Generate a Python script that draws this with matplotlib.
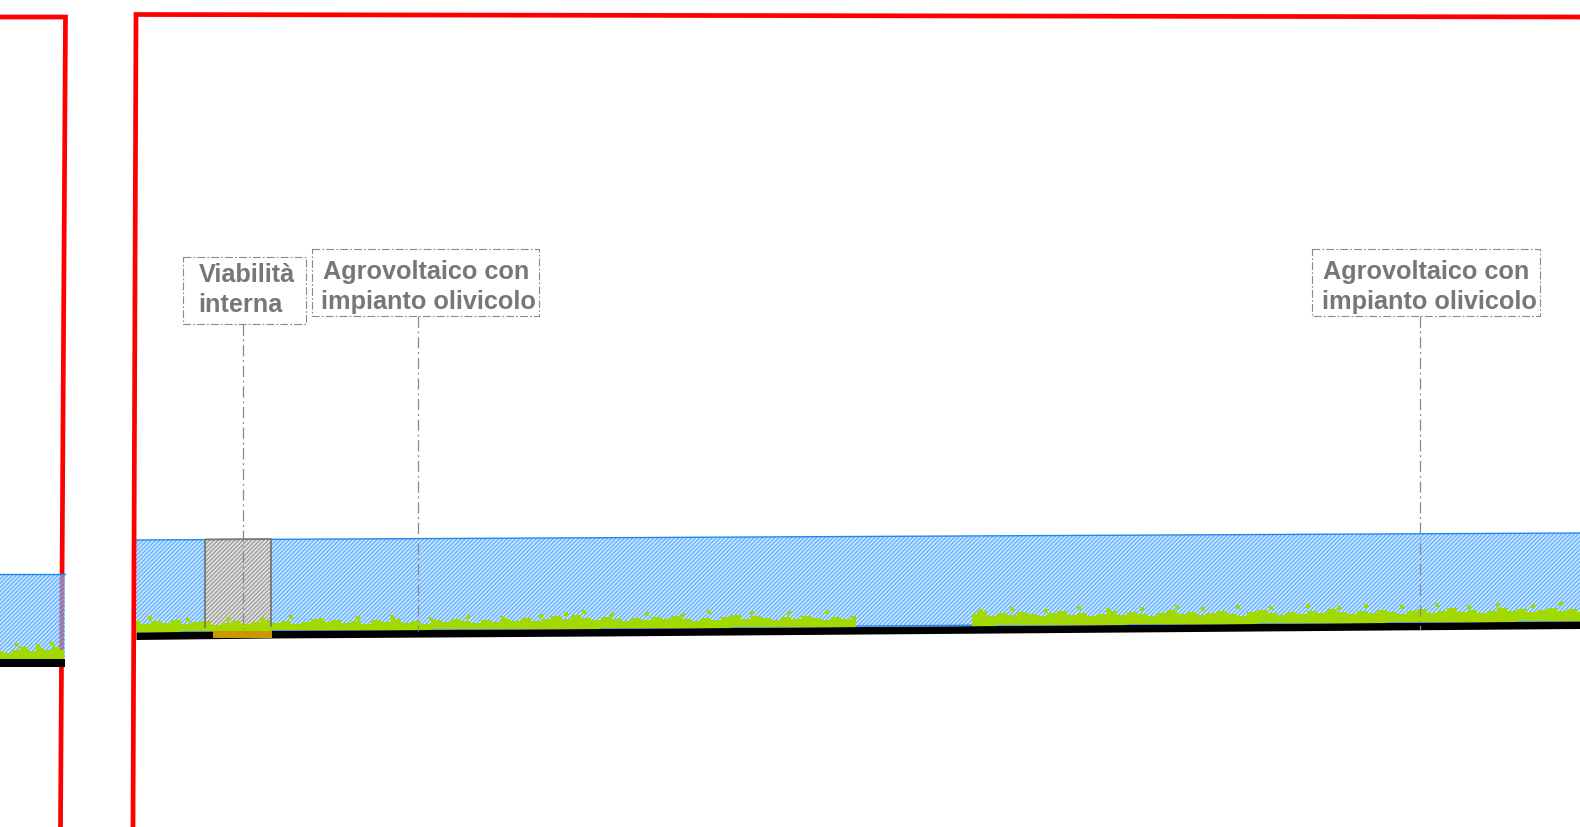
import numpy as np
import matplotlib
matplotlib.use("Agg")
import matplotlib.pyplot as plt

plt.rcParams['font.family'] = ['Liberation Sans', 'DejaVu Sans']
plt.rcParams['hatch.linewidth'] = 0.9

RED = "#ff0000"
BLUE = "#1e88f0"
HATCH_BLUE = "#5fb0ff"
GREEN = "#a2d900"
GREY = "#777777"

# frames (sheet outlines)
left_frame_x = [0, 65.5, 60.5]
left_frame_y = [18, 18, 828]
right_frame_x = [1580, 136, 133]
right_frame_y = [18, 15.5, 828]

# terrain profile, top of the black line
ground_x = [136, 271, 600, 1000, 1580]
ground_y = [633, 631.5, 629.5, 626.5, 622]
ground_thick = 7.5
water_top_x = [136, 1580]
water_top_y = [541, 534]

left_ground_x = [0, 65]
left_ground_y = [660, 660]
left_water_top = 575

# road section
road_x = [205, 271]
road_top = [540.5, 540]
road_bottom = [628, 627]
gravel_x = [213, 272]
gravel_y = [632, 639]

# vegetation, top edge every 10 px
grass1_x = np.arange(136, 866, 10)
grass1_top = [622, 625, 622, 624, 621, 625, 623, 622, 626, 624, 622, 625, 623, 621, 624, 622,
              625, 623, 620, 623, 621, 624, 622, 625, 621, 623, 620, 624, 622, 625, 621, 623,
              620, 622, 624, 621, 623, 620, 622, 619, 622, 620, 617, 620, 616, 619, 621, 618,
              620, 622, 619, 621, 618, 620, 617, 620, 622, 619, 621, 618, 616, 620, 617, 619,
              621, 618, 620, 617, 619, 621, 618, 620, 617]
grass2_x = np.arange(972, 1591, 10)
grass2_top = [615, 612, 617, 614, 616, 613, 615, 617, 614, 612, 616, 614, 617, 615, 612, 616,
              613, 615, 617, 614, 611, 615, 613, 616, 614, 612, 615, 617, 613, 611, 614, 616,
              613, 615, 612, 614, 610, 613, 615, 612, 614, 611, 613, 615, 612, 610, 614, 612,
              609, 613, 611, 614, 612, 609, 612, 610, 613, 611, 609, 612, 610, 613]
left_grass_x = np.arange(0, 65, 8)
left_grass_top = [652, 654, 651, 648, 652, 649, 651, 648, 651]

# single tufts sticking out of the vegetation
tuft_x = [150, 188, 228, 262, 291, 322, 358, 392, 431, 468, 503, 541, 566, 584, 612, 647, 683, 709, 752, 789, 827,
          981, 1012, 1046, 1079, 1108, 1142, 1177, 1203, 1238, 1271, 1308, 1339, 1366, 1402, 1437, 1469, 1498, 1533, 1561,
          17, 38, 52]
tuft_y = [619, 621, 620, 620, 618, 621, 619, 618, 620, 618, 619, 617, 615, 613, 616, 615, 616, 613, 614, 614, 613,
          612, 610, 612, 609, 611, 610, 608, 610, 608, 609, 607, 609, 607, 608, 606, 608, 606, 607, 605,
          646, 647, 645]

# callouts
labels = [["Viabilità", "interna"], ["Agrovoltaico con", "impianto olivicolo"], ["Agrovoltaico con", "impianto olivicolo"]]
label_x = [[199, 198], [323, 321], [1323, 1322]]
label_y = [[282, 312], [279, 309], [279, 309]]
box_x = [[183, 306], [312, 539], [1312, 1540]]
box_y = [[258, 325], [250, 317], [250, 317]]
leader_x = [243, 418, 1420]
leader_end = [630, 632, 631]

fig = plt.figure(figsize=(15.8, 8.28), dpi=100)
ax = fig.add_axes([0, 0, 1, 1])
ax.set_xlim(0, 1580)
ax.set_ylim(828, 0)
ax.axis("off")

ax.plot(left_frame_x, left_frame_y, color=RED, lw=3.4, zorder=1, solid_joinstyle="miter")
ax.plot(right_frame_x, right_frame_y, color=RED, lw=3.4, zorder=5, solid_joinstyle="miter")

# hatched water body, pale wash under the hatch keeps the red frame visible through it
water_bottom = np.interp(water_top_x, ground_x, ground_y)
ax.fill_between(water_top_x, water_top_y, water_bottom, color="#8cc6ff", alpha=0.45, lw=0, zorder=1.5)
ax.fill_between(water_top_x, water_top_y, water_bottom,
                facecolor="none", edgecolor=HATCH_BLUE, hatch="////////", lw=0, zorder=2)
ax.plot(water_top_x, water_top_y, color=BLUE, lw=1, zorder=3)
ax.plot(ground_x, np.array(ground_y) - 0.5, color=BLUE, lw=1, zorder=3)
ax.fill_between(left_ground_x, [left_water_top] * 2, left_ground_y, color="#8cc6ff", alpha=0.45, lw=0, zorder=1.5)
ax.fill_between(left_ground_x, [left_water_top] * 2, left_ground_y,
                facecolor="none", edgecolor=HATCH_BLUE, hatch="////////", lw=0, zorder=2)
ax.plot(left_ground_x, [left_water_top] * 2, color=BLUE, lw=1, zorder=3)

# road
ax.fill_between(road_x, road_top, road_bottom, facecolor="#e2e2e2", edgecolor="#9a9a9a",
                hatch="////////", lw=0, zorder=3.2)
ax.plot([road_x[0], road_x[0], road_x[1], road_x[1]],
        [road_bottom[0], road_top[0], road_top[1], road_bottom[1]], color=GREY, lw=1.3, zorder=4.2)

# vegetation
ax.fill_between(grass1_x, grass1_top, np.interp(grass1_x, ground_x, ground_y), step="mid",
                color=GREEN, lw=0, zorder=4)
ax.fill_between(grass2_x, grass2_top, np.interp(grass2_x, ground_x, ground_y), step="mid",
                color=GREEN, lw=0, zorder=4)
ax.fill_between(left_grass_x, left_grass_top, [left_ground_y[0]] * len(left_grass_x), step="mid",
                color=GREEN, lw=0, zorder=4)
ax.scatter(tuft_x, tuft_y, marker="s", s=9, color=GREEN, lw=0, zorder=4)

# terrain
ax.fill_between(ground_x, ground_y, np.array(ground_y) + ground_thick, color="black", lw=0, zorder=4.5)
ax.fill_between(left_ground_x, left_ground_y, np.array(left_ground_y) + ground_thick, color="black", lw=0, zorder=4.5)
ax.fill_between(gravel_x, [gravel_y[0]] * 2, [gravel_y[1]] * 2, color="#c99700", lw=0, zorder=4.6)

# callouts
dash = (0, (9, 3, 1.5, 3))
for i in range(len(labels)):
    x0, x1 = box_x[i]
    y0, y1 = box_y[i]
    ax.plot([x0, x1, x1, x0, x0], [y0, y0, y1, y1, y0], color="#8a8a8a", lw=0.8, linestyle=(0, (7, 2, 1.5, 2)), zorder=6)
    ax.plot([leader_x[i]] * 2, [y1, leader_end[i]], color="#8a8a8a", lw=0.9, linestyle=dash, zorder=6)
    for txt, tx, ty in zip(labels[i], label_x[i], label_y[i]):
        ax.text(tx, ty, txt, fontsize=18.2, fontweight="bold", color=GREY, ha="left", va="baseline", zorder=7)

fig.savefig("out.png", dpi=100)
